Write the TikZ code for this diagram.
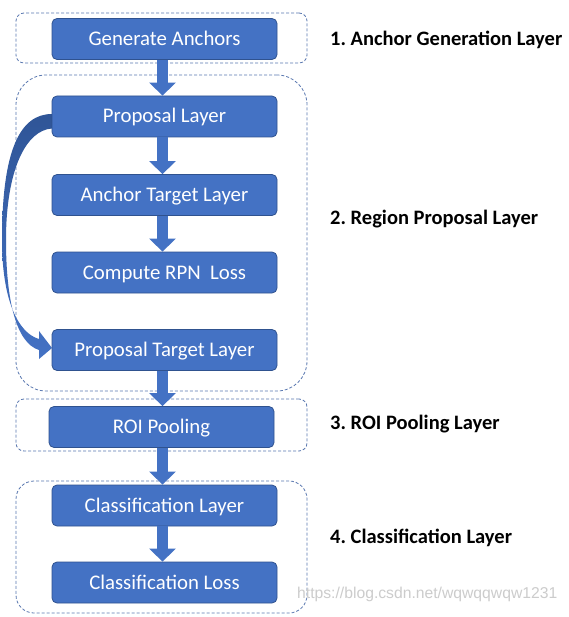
\documentclass[tikz,border=0pt]{standalone}
\usepackage{fontspec}
\setmainfont{Carlito}
\newfontfamily\wmfont{Liberation Sans}
\usetikzlibrary{arrows.meta,calc}
\definecolor{boxblue}{HTML}{4472C4}
\definecolor{boxedge}{HTML}{2F528F}
\definecolor{grpedge}{HTML}{5A78B0}
\definecolor{curvedark}{HTML}{2F5597}
\tikzset{
  stepbox/.style={draw=boxedge, fill=boxblue, line width=0.8pt, rounded corners=5pt,
    minimum width=225pt, minimum height=41pt, text=white, inner sep=0pt,
    text height=13pt, text depth=0pt, font=\fontsize{20.8}{24}\selectfont},
  grp/.style={draw=grpedge, dash pattern=on 3pt off 2pt, line width=0.8pt, inner sep=0pt,
    minimum width=291pt},
  fat/.style={draw=boxblue, line width=11pt, -{Triangle[length=13pt,width=26pt]}},
  lbl/.style={anchor=base west, inner sep=0pt, text=black,
    font=\bfseries\fontsize{20.5}{24}\selectfont},
}
\begin{document}
\begin{tikzpicture}[x=1pt,y=-1pt]
\fill[white] (0,0) rectangle (568,617);
\useasboundingbox (0,0) rectangle (568,617);

% groups
\node[grp, rounded corners=8pt, minimum height=50pt] (g1) at (161.5,38) {};
\node[grp, rounded corners=30pt, minimum height=316pt] (g2) at (161.5,233) {};
\node[grp, rounded corners=8pt, minimum height=52pt] (g3) at (161.5,425) {};
\node[grp, rounded corners=18pt, minimum height=132pt] (g4) at (161.5,547) {};

\coordinate (plw) at (52,116.5);
\coordinate (ptlw) at (52,350);

% curved arrow
\shade[top color=curvedark, bottom color=boxblue]
  ($(plw)+(0,-2.5)$) .. controls (20,114) and (2,150) .. (2,240)
  .. controls (2,300) and (18,333) .. (39,339)
  -- (39,331) -- ($(ptlw)+(0,-2)$) -- (39,359) -- (39,350)
  .. controls (16,343) and (6,300) .. (6,240)
  .. controls (6,170) and (26,130) .. ($(plw)+(0,12)$) -- cycle;

\node[stepbox] (ga) at (164.5,39) {Generate Anchors};
\node[stepbox] (pl) at (164.5,116.5) {Proposal Layer};
\node[stepbox] (atl) at (164.5,195) {Anchor Target Layer};
\node[stepbox] (crl) at (164.5,272.5) {Compute RPN\ \ Loss};
\node[stepbox] (ptl) at (164.5,350) {Proposal Target Layer};
\node[stepbox] (roi) at (161.5,427) {ROI Pooling};
\node[stepbox] (cl) at (164.5,505.5) {Classification Layer};
\node[stepbox] (closs) at (164.5,582.5) {Classification Loss};

% straight arrows
\draw[fat] ([xshift=-2pt]ga.south) -- ([xshift=-2pt]pl.north);
\draw[fat] ([xshift=-2pt]pl.south) -- ([xshift=-2pt]atl.north);
\draw[fat] ([xshift=-2pt]atl.south) -- ([xshift=-2pt]crl.north);
\draw[fat] ([xshift=-2pt]ptl.south) -- ([xshift=1pt]roi.north);
\draw[fat] ([xshift=1pt]roi.south) -- ([xshift=-2pt]cl.north);
\draw[fat] ([xshift=-2pt]cl.south) -- ([xshift=-2pt]closs.north);

% labels
\node[lbl] (l1) at (330,46) {1.~Anchor Generation Layer};
\node[lbl] (l2) at (330,225) {2.~Region Proposal Layer};
\node[lbl] (l3) at (330,429.5) {3.~ROI Pooling Layer};
\node[lbl] (l4) at (330,543.5) {4.~Classification Layer};

% watermark
\node[anchor=base west, inner sep=0pt, text=gray!40, font=\wmfont\fontsize{15.7}{18}\selectfont]
  (wm) at (297,598) {https://blog.csdn.net/wqwqqwqw1231};
\end{tikzpicture}
\end{document}
